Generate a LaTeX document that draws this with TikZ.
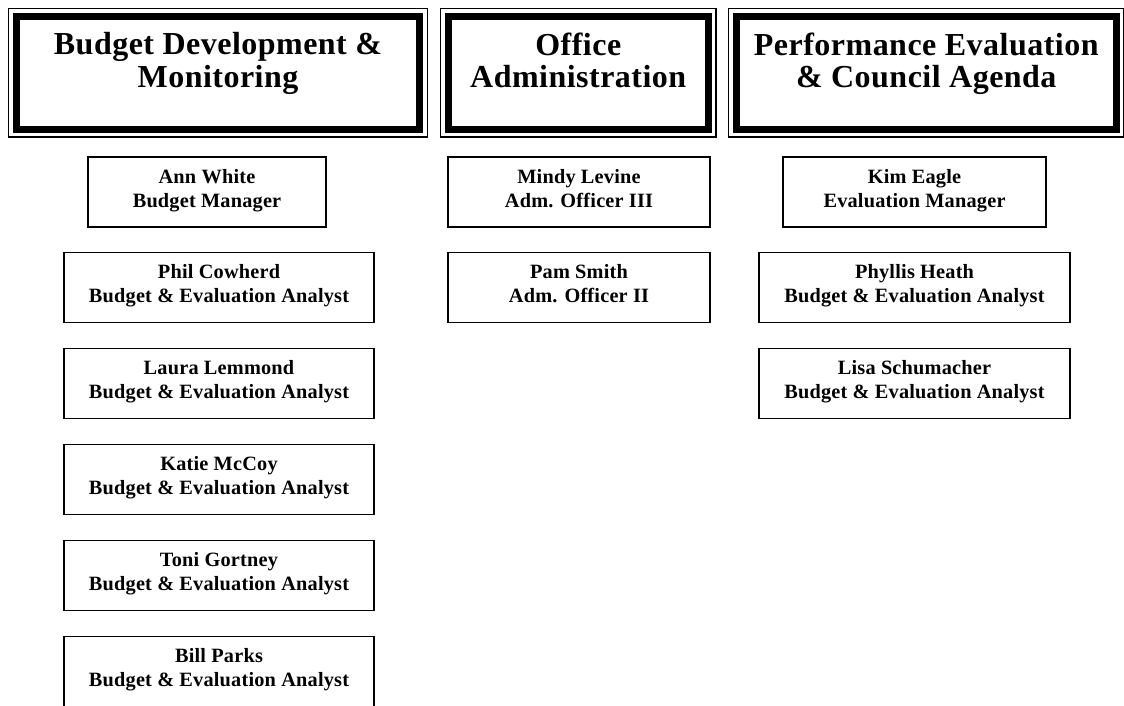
\documentclass[tikz,border=0pt]{standalone}
\usepackage{fontspec}
\setmainfont{Liberation Serif}
\begin{document}
\begin{tikzpicture}[x=1pt,y=-1pt,
	deptbox/.style={draw,line width=7pt,inner sep=0pt,outer sep=0pt,minimum height=112.5pt},
	depttext/.style={anchor=north,align=center,inner sep=0pt,font=\bfseries\fontsize{32}{32.5}\selectfont\addfontfeature{LetterSpace=1.5}},
	staffbox/.style={draw,line width=1.8pt,inner sep=0pt,minimum height=70pt,align=center,
		font=\bfseries\fontsize{20.3}{24}\selectfont\addfontfeature{LetterSpace=1},
		execute at begin node=\strut,execute at end node=\strut}]
	\useasboundingbox (0,0) rectangle (1124,705);
	
	% the three sections
	\node[deptbox, minimum width=403pt] (BDM) at (218,72.75) {};
	\node[deptbox, minimum width=259.5pt] (OAD) at (578.25,72.75) {};
	\node[deptbox, minimum width=379.5pt] (PEC) at (926.25,72.75) {};
	\foreach \D in {BDM,OAD,PEC}{
		\draw[line width=1.2pt] ([shift={(-8pt,8pt)}]\D.north west) rectangle ([shift={(8pt,-8pt)}]\D.south east);
	}
	\node[depttext] (BDMt) at ([yshift=-16pt]BDM.north) {Budget Development \&\\Monitoring};
	\node[depttext] (OADt) at ([yshift=-16pt]OAD.north) {Office\\Administration};
	\node[depttext] (PECt) at ([yshift=-16pt]PEC.north) {Performance Evaluation\\\& Council Agenda};
	
	% budget staff
	\node[staffbox, minimum width=238pt] (ann) at (207,192) {Ann White\\Budget Manager};
	\node[staffbox, minimum width=310pt] (phil) at (219,287.5) {Phil Cowherd\\Budget \& Evaluation Analyst};
	\node[staffbox, minimum width=310pt] (laura) at (219,383.5) {Laura Lemmond\\Budget \& Evaluation Analyst};
	\node[staffbox, minimum width=310pt] (katie) at (219,479.5) {Katie McCoy\\Budget \& Evaluation Analyst};
	\node[staffbox, minimum width=310pt] (toni) at (219,575.5) {Toni Gortney\\Budget \& Evaluation Analyst};
	\node[staffbox, minimum width=310pt] (bill) at (219,671.5) {Bill Parks\\Budget \& Evaluation Analyst};
	
	% office staff
	\node[staffbox, minimum width=262pt] (mindy) at (579,192) {Mindy Levine\\Adm. Officer III};
	\node[staffbox, minimum width=262pt] (pam) at (579,287.5) {Pam Smith\\Adm. Officer II};
	
	% evaluation staff
	\node[staffbox, minimum width=263pt] (kim) at (914.5,192) {Kim Eagle\\Evaluation Manager};
	\node[staffbox, minimum width=311pt] (phyllis) at (914.5,287.5) {Phyllis Heath\\Budget \& Evaluation Analyst};
	\node[staffbox, minimum width=311pt] (lisa) at (914.5,383.5) {Lisa Schumacher\\Budget \& Evaluation Analyst};
\end{tikzpicture}
\end{document}
